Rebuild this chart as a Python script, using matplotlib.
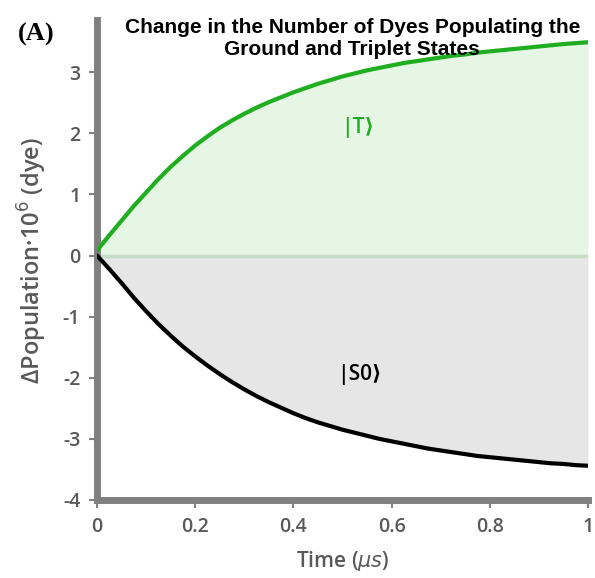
import numpy as np
import matplotlib
matplotlib.use("Agg")
import matplotlib.pyplot as plt

plt.rcParams["axes.unicode_minus"] = False

# values (population change, 10^6 dyes)
time_us = [0.0, 0.025, 0.05, 0.075, 0.1, 0.125, 0.15, 0.175, 0.2, 0.225, 0.25,
           0.275, 0.3, 0.325, 0.35, 0.375, 0.4, 0.425, 0.45, 0.475, 0.5,
           0.525, 0.55, 0.575, 0.6, 0.625, 0.65, 0.675, 0.7, 0.725, 0.75,
           0.775, 0.8, 0.825, 0.85, 0.875, 0.9, 0.925, 0.95, 0.975, 1.0]
triplet = [0.08, 0.33, 0.57, 0.81, 1.03, 1.25, 1.45, 1.63, 1.80, 1.95, 2.09,
           2.21, 2.32, 2.42, 2.51, 2.59, 2.67, 2.74, 2.81, 2.87, 2.93,
           2.98, 3.03, 3.07, 3.11, 3.15, 3.18, 3.21, 3.24, 3.27, 3.29,
           3.32, 3.34, 3.36, 3.38, 3.40, 3.42, 3.44, 3.46, 3.475, 3.49]
ground = [0.0, -0.22, -0.45, -0.69, -0.91, -1.12, -1.31, -1.49, -1.65, -1.80, -1.94,
          -2.07, -2.19, -2.30, -2.40, -2.49, -2.58, -2.66, -2.73, -2.79, -2.85,
          -2.90, -2.95, -3.00, -3.04, -3.08, -3.12, -3.16, -3.19, -3.22, -3.25,
          -3.28, -3.30, -3.32, -3.34, -3.36, -3.38, -3.40, -3.41, -3.43, -3.44]
x_ticks = [0, 0.2, 0.4, 0.6, 0.8, 1]
x_ticklabels = ["0", "0.2", "0.4", "0.6", "0.8", "1"]
y_ticks = [-4, -3, -2, -1, 0, 1, 2, 3]

green = "#1fae1f"
axis_grey = "#808080"
text_grey = "#595959"
label_font = ["Open Sans", "DejaVu Sans"]

fig = plt.figure(figsize=(5.95, 5.78), dpi=100)
ax = fig.add_axes([0.163, 0.135, 0.825, 0.83])

t = np.array(time_us)
ax.fill_between(t, 0, triplet, color="#e5f6e5", lw=0)
ax.fill_between(t, 0, ground, color="#e6e6e6", lw=0)
ax.axhline(0, color="#c6dcc6", lw=2.5, zorder=2)
ax.plot(t, triplet, color=green, lw=3, zorder=3, solid_capstyle="round", solid_joinstyle="round")
ax.plot(t, ground, color="black", lw=3, zorder=3, solid_capstyle="round", solid_joinstyle="round")

ax.set_xlim(0, 1)
ax.set_ylim(-4, 3.85)
ax.set_xticks(x_ticks)
ax.set_xticklabels(x_ticklabels)
ax.set_yticks(y_ticks)

for side in ["top", "right"]:
    ax.spines[side].set_visible(False)
for side in ["left", "bottom"]:
    ax.spines[side].set_color(axis_grey)
    ax.spines[side].set_linewidth(5)
ax.tick_params(colors=axis_grey, width=1.5, length=6, labelcolor=text_grey, pad=6)
for lbl in ax.get_xticklabels() + ax.get_yticklabels():
    lbl.set_fontfamily(label_font)
    lbl.set_fontweight("semibold")
    lbl.set_fontsize(14)

ax.set_xlabel("Time ($\\mu s$)", fontsize=15, color=text_grey,
              fontfamily=label_font, fontweight="semibold", labelpad=9)
ax.set_ylabel("ΔPopulation·10$^6$ (dye)", fontsize=17, color=text_grey,
              fontfamily=label_font, fontweight="semibold", labelpad=10)

ax.text(0.53, 2.1, "|T⟩", color=green, fontsize=15, ha="center", va="center",
        fontfamily=label_font, fontweight="semibold")
ax.text(0.535, -1.95, "|S0⟩", color="black", fontsize=15, ha="center", va="center",
        fontfamily=label_font, fontweight="semibold")

fig.text(0.592, 0.968, "Change in the Number of Dyes Populating the\nGround and Triplet States",
         ha="center", va="top", fontsize=15, fontweight="bold",
         fontfamily="Liberation Sans", linespacing=1.15)
fig.text(0.03, 0.94, "(A)", fontsize=19, fontweight="bold", fontfamily="Liberation Serif",
         va="center", ha="left")

fig.savefig("out.png", dpi=100)
